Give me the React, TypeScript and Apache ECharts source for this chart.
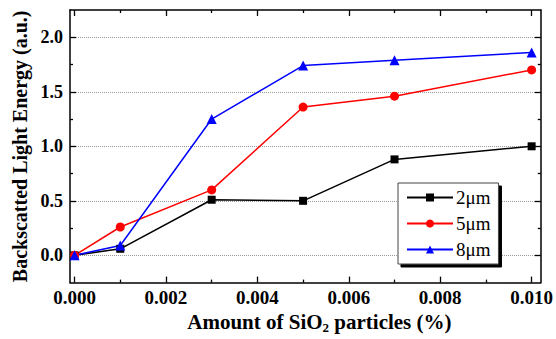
import React, { useEffect, useRef } from "react";
import * as echarts from "echarts";

const xValues = [0, 0.001, 0.003, 0.005, 0.007, 0.01];
const series2um = [0, 0.06, 0.51, 0.5, 0.88, 1.0];
const series5um = [0, 0.26, 0.6, 1.36, 1.46, 1.7];
const series8um = [0, 0.09, 1.25, 1.74, 1.79, 1.86];
const seriesNames = ["2μm", "5μm", "8μm"];
const xMajor = [0, 0.002, 0.004, 0.006, 0.008, 0.01];
const xMinor = [0.001, 0.003, 0.005, 0.007, 0.009];
const yMajor = [0, 0.5, 1.0, 1.5, 2.0];
const yMinor = [0.25, 0.75, 1.25, 1.75];

const FONT = "Liberation Serif";
const X_MIN = -0.0001;
const X_MAX = 0.0102;
const Y_MIN = -0.25;
const Y_MAX = 2.25;

export default function App() {
  const ref = useRef<HTMLDivElement>(null);
  useEffect(() => {
    if (!ref.current) return;
    const chart = echarts.init(ref.current, undefined, { renderer: "svg" });
    const axisLineStyle = { color: "#000", width: 1.5 };
    const tickLine = { color: "#000", width: 1.3 };
    const xBase = (position: string, ticks: number[], len: number, showLine: boolean) => ({
      type: "value",
      position,
      min: X_MIN,
      max: X_MAX,
      axisLine: { show: showLine, onZero: false, lineStyle: axisLineStyle },
      axisTick: { show: true, inside: true, length: len, customValues: ticks, lineStyle: tickLine },
      axisLabel: { show: false, customValues: ticks },
      splitLine: { show: false },
    });
    const yBase = (position: string, ticks: number[], len: number, showLine: boolean) => ({
      type: "value",
      position,
      min: Y_MIN,
      max: Y_MAX,
      axisLine: { show: showLine, onZero: false, lineStyle: axisLineStyle },
      axisTick: { show: true, inside: true, length: len, customValues: ticks, lineStyle: tickLine },
      axisLabel: { show: false, customValues: ticks },
      splitLine: { show: false },
    });
    const mainX: any = xBase("bottom", xMajor, 6, true);
    mainX.axisLabel = {
      show: true,
      customValues: xMajor,
      formatter: (v: number) => v.toFixed(3),
      fontFamily: FONT,
      fontWeight: "bold",
      fontSize: 19,
      color: "#000",
      margin: 5,
    };
    mainX.name = "Amount of SiO{sub|2} particles (%)";
    mainX.nameLocation = "middle";
    mainX.nameGap = 16;
    mainX.nameTextStyle = {
      fontFamily: FONT,
      fontWeight: "bold",
      fontSize: 21,
      color: "#000",
      padding: [0, 0, 0, 28],
      rich: {
        sub: { fontFamily: FONT, fontWeight: "bold", fontSize: 13, color: "#000", verticalAlign: "bottom", padding: [11, 0, 0, 0] },
      },
    };
    const mainY: any = yBase("left", yMajor, 6, true);
    mainY.axisLabel = {
      show: true,
      customValues: yMajor,
      formatter: (v: number) => v.toFixed(1),
      fontFamily: FONT,
      fontWeight: "bold",
      fontSize: 18,
      color: "#000",
      margin: 7,
    };
    mainY.splitLine = { show: true, lineStyle: { color: "#9a9a9a", type: "dotted", width: 1 } };
    mainY.name = "Backscatted Light Energy (a.u.)";
    mainY.nameLocation = "middle";
    mainY.nameGap = 39;
    mainY.nameTextStyle = { fontFamily: FONT, fontWeight: "bold", fontSize: 20, color: "#000" };

    const mk = (name: string, data: number[], color: string, symbol: string, size: number) => ({
      name,
      type: "line",
      data: xValues.map((x, i) => [x, data[i]]),
      symbol,
      symbolSize: size,
      showAllSymbol: true,
      lineStyle: { color, width: 1.5 },
      itemStyle: { color },
      z: 3,
    });

    chart.setOption({
      animation: false,
      backgroundColor: "#fff",
      grid: { left: 70, right: 14, top: 10, bottom: 54, containLabel: false },
      xAxis: [
        mainX,
        xBase("bottom", xMinor, 3, false),
        xBase("top", xMajor, 6, true),
        xBase("top", xMinor, 3, false),
      ],
      yAxis: [
        mainY,
        yBase("left", yMinor, 3, false),
        yBase("right", yMajor, 6, true),
        yBase("right", yMinor, 3, false),
      ],
      legend: {
        data: seriesNames,
        orient: "vertical",
        left: 398,
        top: 183,
        itemWidth: 46,
        itemHeight: 10,
        itemGap: 7,
        padding: [5, 8, 5, 8],
        backgroundColor: "#fff",
        borderColor: "#444",
        borderWidth: 1,
        shadowColor: "#000",
        shadowBlur: 0,
        shadowOffsetX: 3,
        shadowOffsetY: 3,
        textStyle: { fontFamily: FONT, fontSize: 19, color: "#000", padding: [0, 0, 0, -2] },
      },
      series: [
        mk(seriesNames[0], series2um, "#000000", "rect", 8),
        mk(seriesNames[1], series5um, "#ff0000", "circle", 9),
        mk(seriesNames[2], series8um, "#0000ff", "triangle", 10),
      ],
    });
    return () => chart.dispose();
  }, []);
  return <div ref={ref} style={{ width: 556, height: 339, position: "absolute", left: 0, top: 0 }} />;
}
